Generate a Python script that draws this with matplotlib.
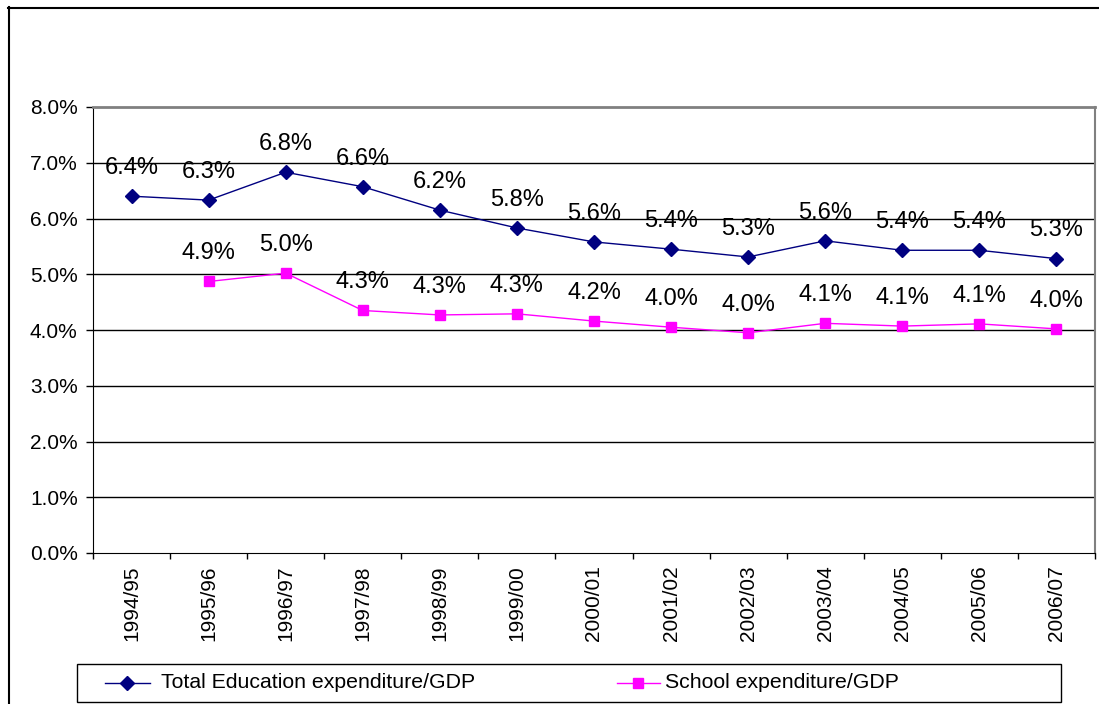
import matplotlib
matplotlib.use("Agg")
import matplotlib.pyplot as plt
from matplotlib.lines import Line2D
from matplotlib.patches import Rectangle
from matplotlib.ticker import FuncFormatter, FixedLocator

plt.rcParams["font.family"] = ["Liberation Sans", "DejaVu Sans"]

# data
years = ["1994/95", "1995/96", "1996/97", "1997/98", "1998/99", "1999/00", "2000/01",
         "2001/02", "2002/03", "2003/04", "2004/05", "2005/06", "2006/07"]
total_edu = [6.40, 6.33, 6.83, 6.57, 6.15, 5.83, 5.58, 5.45, 5.31, 5.60, 5.43, 5.43, 5.28]
school = [None, 4.87, 5.02, 4.35, 4.27, 4.29, 4.16, 4.05, 3.95, 4.12, 4.07, 4.11, 4.02]

total_labels = ["6.4%", "6.3%", "6.8%", "6.6%", "6.2%", "5.8%", "5.6%",
                "5.4%", "5.3%", "5.6%", "5.4%", "5.4%", "5.3%"]
school_labels = [None, "4.9%", "5.0%", "4.3%", "4.3%", "4.3%", "4.2%",
                 "4.0%", "4.0%", "4.1%", "4.1%", "4.1%", "4.0%"]

NAVY = "#000080"
MAGENTA = "#FF00FF"

W, H = 1099, 704
fig = plt.figure(figsize=(W / 100, H / 100), dpi=100)


def fx(px):
    return px / W


def fy(py):
    return 1 - py / H


# plot area
left, right, top, bottom = 93, 1095, 107, 553
ax = fig.add_axes([fx(left), fy(bottom), fx(right - left), (bottom - top) / H])

x = list(range(len(years)))
xs = [i for i, v in zip(x, school) if v is not None]
ys = [v for v in school if v is not None]

ax.plot(x, total_edu, color=NAVY, lw=1, marker="D", ms=7, zorder=3)
ax.plot(xs, ys, color=MAGENTA, lw=1, marker="s", ms=7, zorder=3)

for i, (v, lab) in enumerate(zip(total_edu, total_labels)):
    ax.annotate(lab, (i, v), xytext=(0, 16), textcoords="offset points",
                ha="center", va="baseline", fontsize=17)
for i, (v, lab) in enumerate(zip(school, school_labels)):
    if v is None:
        continue
    ax.annotate(lab, (i, v), xytext=(0, 16), textcoords="offset points",
                ha="center", va="baseline", fontsize=17)

ax.set_xlim(-0.5, len(years) - 0.5)
ax.set_ylim(0, 8)

# y axis
ax.yaxis.set_major_locator(FixedLocator([0, 1, 2, 3, 4, 5, 6, 7, 8]))
ax.yaxis.set_major_formatter(FuncFormatter(lambda v, p: f"{v:.1f}%"))
ax.tick_params(axis="y", direction="out", length=5, width=1, pad=6, labelsize=15)
for g in range(1, 8):
    ax.axhline(g, color="black", lw=1, zorder=1)

# x axis: tick marks at category boundaries, labels at centers
ax.xaxis.set_major_locator(FixedLocator([i - 0.5 for i in range(len(years) + 1)]))
ax.xaxis.set_major_formatter(FuncFormatter(lambda v, p: ""))
ax.xaxis.set_minor_locator(FixedLocator(x))
ax.set_xticklabels(years, minor=True, rotation=90, va="top", fontsize=15)
ax.tick_params(axis="x", which="major", direction="out", length=4, width=1)
ax.tick_params(axis="x", which="minor", length=0, pad=9)

ax.spines["left"].set_color("black")
ax.spines["bottom"].set_color("black")
ax.spines["top"].set_color("#808080")
ax.spines["right"].set_color("#808080")
ax.spines["top"].set_linewidth(2)
ax.spines["right"].set_linewidth(1.5)

# outer chart frame (clipped at right and bottom in the reference)
fig.add_artist(Line2D([fx(8.5), fx(8.5)], [fy(7), 0], color="black", lw=1.5,
                      transform=fig.transFigure))
fig.add_artist(Line2D([fx(8), 1], [fy(7.5), fy(7.5)], color="black", lw=1.5,
                      transform=fig.transFigure))

# legend box drawn by hand to match the wide spacing
fig.add_artist(Rectangle((fx(77), fy(702)), fx(1061 - 77), (702 - 664) / H,
                         fill=False, edgecolor="black", lw=1, transform=fig.transFigure))
ly = fy(683)
fig.add_artist(Line2D([fx(105), fx(150)], [ly, ly], color=NAVY, lw=1,
                      transform=fig.transFigure))
fig.add_artist(Line2D([fx(127)], [ly], color=NAVY, marker="D", ms=7,
                      transform=fig.transFigure))
fig.text(fx(161), ly, "Total Education expenditure/GDP", fontsize=15.3, va="center")
fig.add_artist(Line2D([fx(617), fx(660)], [ly, ly], color=MAGENTA, lw=1,
                      transform=fig.transFigure))
fig.add_artist(Line2D([fx(638)], [ly], color=MAGENTA, marker="s", ms=7,
                      transform=fig.transFigure))
fig.text(fx(665), ly, "School expenditure/GDP", fontsize=15.3, va="center")

fig.savefig("out.png", dpi=100)
